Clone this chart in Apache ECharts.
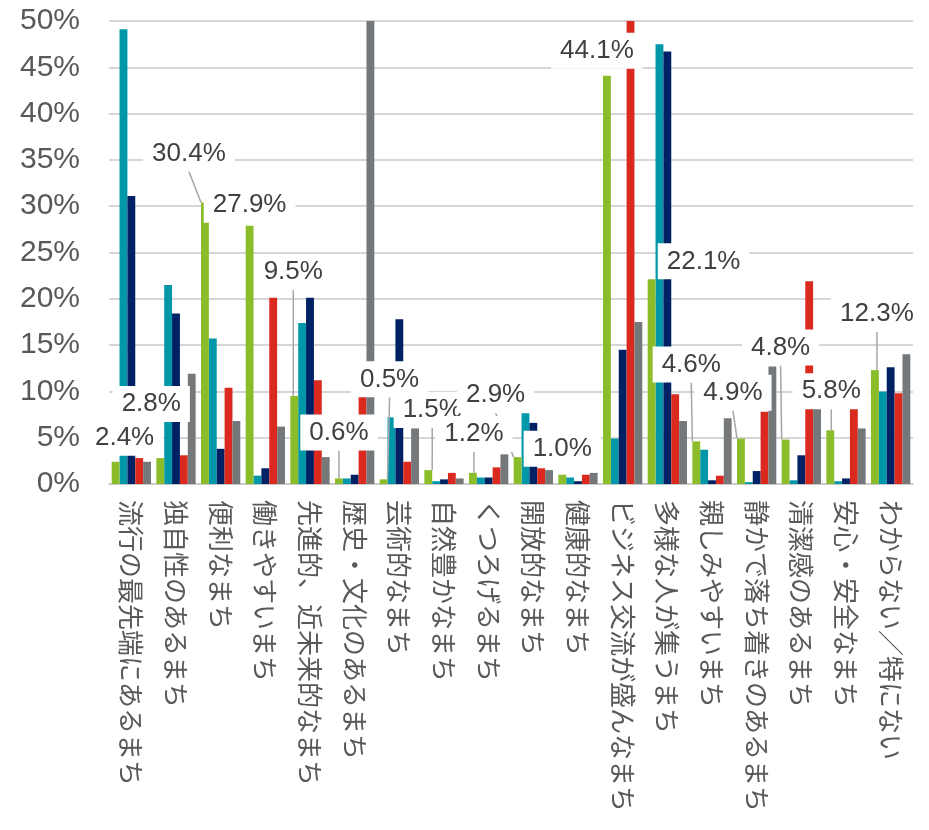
<!DOCTYPE html>
<html><head><meta charset="utf-8">
<script src="https://cdn.jsdelivr.net/npm/echarts@6/dist/echarts.min.js"></script>
<style>html,body{margin:0;padding:0;background:#fff}#c{width:929px;height:830px}</style>
</head><body><div id="c"></div>
<script>
// ---- data ----
const categories = ['流行の最先端にあるまち','独自性のあるまち','便利なまち','働きやすいまち','先進的、近未来的なまち','歴史・文化のあるまち','芸術的なまち','自然豊かなまち','くつろげるまち','開放的なまち','健康的なまち','ビジネス交流が盛んなまち','多様な人が集うまち','親しみやすいまち','静かで落ち着きのあるまち','清潔感のあるまち','安心・安全なまち','わからない／特にない'];
const seriesGreen = [2.4, 2.8, 30.4, 27.9, 9.5, 0.6, 0.5, 1.5, 1.2, 2.9, 1.0, 44.1, 22.1, 4.6, 4.9, 4.8, 5.8, 12.3];
const seriesTeal  = [49.1, 21.5, 15.7, 0.9, 17.4, 0.6, 7.2, 0.3, 0.7, 7.7, 0.7, 4.9, 47.5, 3.7, 0.2, 0.4, 0.3, 10.0];
const seriesNavy  = [31.1, 18.4, 3.8, 1.7, 20.1, 1.0, 17.8, 0.5, 0.7, 6.6, 0.3, 14.5, 46.7, 0.4, 1.4, 3.1, 0.6, 12.6];
const seriesRed   = [2.8, 3.1, 10.4, 20.1, 11.2, 11.0, 2.4, 1.2, 1.8, 1.7, 1.0, 55.0, 9.7, 0.9, 7.8, 21.9, 8.1, 9.8];
const seriesGray  = [2.4, 11.9, 6.8, 6.2, 2.9, 55.0, 6.0, 0.6, 3.2, 1.5, 1.2, 17.5, 6.8, 7.1, 12.7, 8.1, 6.0, 14.0];
const yMin = 0, yMax = 50, yInterval = 5;

// ---- label placement (offset of label centre from top-centre of green bar, px) ----
const greenLabelOffsets = [[9,-24],[-9,-54],[-16,-49],[0,-21],[-1,-124],[0,-46],[6,-100],[4,-60],[1,-39],[-22,-62],[0,-26],[-10,-25],[52,-18],[-5,-77],[-8,-46],[-5,-92],[1,-39],[2,-56]];
const greenLeader = [false,false,true,false,true,true,true,true,true,true,false,false,false,true,true,true,true,true];

const colors = ['#8BBD2A','#0098A9','#002163','#DA2A1F','#75787B'];
const names = ['s1','s2','s3','s4','s5'];
const allSeries = [seriesGreen, seriesTeal, seriesNavy, seriesRed, seriesGray];

const series = allSeries.map((arr, si) => {
  const s = {
    name: names[si], type: 'bar', barGap: '0%', barCategoryGap: '12%',
    itemStyle: { color: colors[si] },
    clip: true,
    data: arr.slice()
  };
  if (si === 0) {
    s.z = 3;
    s.data = arr.map((v, i) => ({ value: v, labelLine: { show: greenLeader[i] } }));
    s.label = {
      show: true, position: 'top', distance: 0,
      formatter: p => p.value.toFixed(1) + '%',
      fontFamily: 'Liberation Sans, Arial, sans-serif', fontSize: 26, color: '#404040',
      backgroundColor: '#ffffff', padding: [5, 9, 5, 9]
    };
    s.labelLine = { show: true, lineStyle: { color: '#a6a6a6', width: 1.5 } };
    s.labelLayout = function (p) {
      const o = greenLabelOffsets[p.dataIndex];
      return { x: p.rect.x + p.rect.width / 2 + o[0], y: p.rect.y + o[1], align: 'center', verticalAlign: 'middle' };
    };
  }
  return s;
});

const chart = echarts.init(document.getElementById('c'), null, { renderer: 'canvas' });
chart.setOption({
  animation: false,
  backgroundColor: '#ffffff',
  grid: { left: 109, right: 16, top: 21, bottom: 346, containLabel: false, outerBoundsMode: 'none' },
  legend: { show: false },
  xAxis: {
    type: 'category', data: categories,
    axisTick: { show: false },
    axisLine: { lineStyle: { color: '#c8c8c8', width: 1.5 } },
    axisLabel: { interval: 0, rotate: -90, margin: 16, fontSize: 26, color: '#595959',
                 fontFamily: 'Noto Sans CJK JP, sans-serif' }
  },
  yAxis: {
    type: 'value', min: yMin, max: yMax, interval: yInterval,
    axisLine: { show: false }, axisTick: { show: false },
    splitLine: { lineStyle: { color: '#c8c8c8', width: 1.5 } },
    axisLabel: { formatter: '{value}%', fontSize: 30, color: '#595959', margin: 29,
                 fontFamily: 'Liberation Sans, Arial, sans-serif' }
  },
  series: series
});
</script></body></html>
